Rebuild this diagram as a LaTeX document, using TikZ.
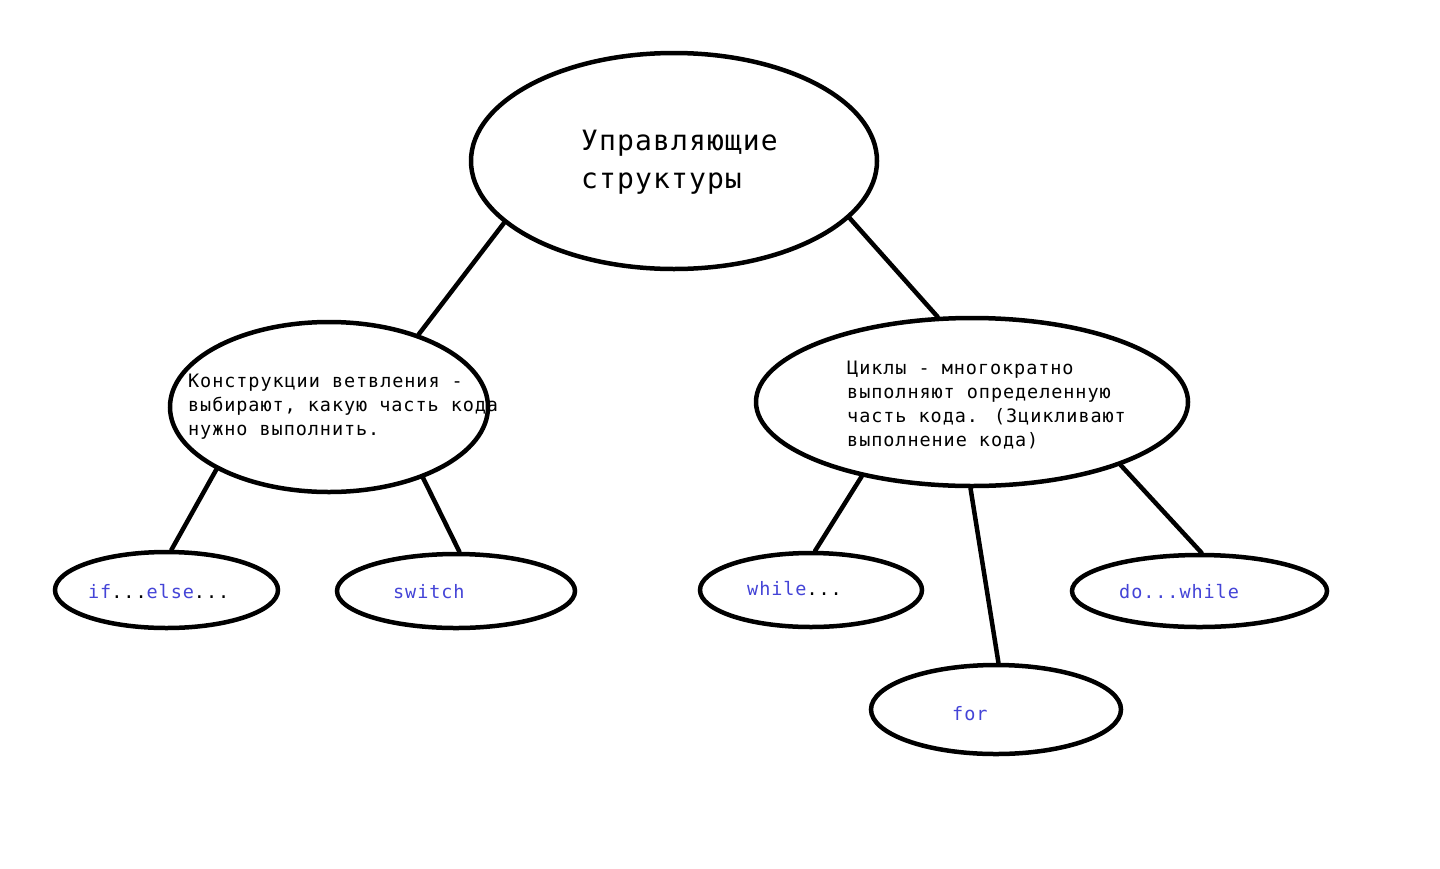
\documentclass[tikz,border=0pt]{standalone}
\usepackage{fontspec}
\setmonofont{DejaVu Sans Mono}
\newfontfamily\bodyfont[LetterSpace=5]{DejaVu Sans Mono}
\newfontfamily\titlefont[LetterSpace=4]{DejaVu Sans Mono}
\usetikzlibrary{shapes.geometric}
\definecolor{kwblue}{RGB}{68,68,215}
\tikzset{
  oval/.style={ellipse, draw=black, line width=4.5pt, inner sep=0pt, fill=none},
  conn/.style={line width=4.5pt, line cap=round},
  bodytext/.style={anchor=west, align=left, inner sep=0pt, font=\bodyfont\fontsize{18.5}{24}\selectfont},
  kwtext/.style={anchor=west, inner sep=0pt, text=kwblue, font=\bodyfont\fontsize{18.5}{24}\selectfont},
  titletext/.style={anchor=west, align=left, inner sep=0pt, font=\titlefont\fontsize{28}{38}\selectfont}
}
\begin{document}
\begin{tikzpicture}[x=1pt,y=-1pt]
\fill[white] (0,0) rectangle (1440,868);
\useasboundingbox (0,0) rectangle (1440,868);

% ellipses
\node[oval, minimum width=406pt, minimum height=216pt] (top) at (674,161) {};
\node[oval, minimum width=318pt, minimum height=170pt] (branch) at (329,407) {};
\node[oval, minimum width=432pt, minimum height=168pt] (loops) at (972,402) {};
\node[oval, minimum width=223pt, minimum height=76pt] (ifelse) at (166.5,590) {};
\node[oval, minimum width=238pt, minimum height=74pt] (switch) at (456,591) {};
\node[oval, minimum width=222pt, minimum height=74pt] (while) at (811,590) {};
\node[oval, minimum width=255pt, minimum height=72pt] (dowhile) at (1199.5,591) {};
\node[oval, minimum width=250pt, minimum height=89pt] (for) at (996,709.5) {};

% texts
\node[titletext] (toptext) at (581,162) {Управляющие\\структуры};
\node[bodytext] (branchtext) at (188,407) {Конструкции ветвления -\\выбирают, какую часть кода\\нужно выполнить.};
\node[bodytext] (loopstext) at (847,405) {Циклы - многократно\\выполняют определенную\\часть кода. (Зцикливают\\выполнение кода)};
\node[kwtext] (iftext) at (88,592) {if\textcolor{black}{...}else\textcolor{black}{...}};
\node[kwtext] (switchtext) at (393,592) {switch};
\node[kwtext] (whiletext) at (747,589) {while\textcolor{black}{...}};
\node[kwtext] (dotext) at (1119,592) {do...while};
\node[kwtext] (fortext) at (952,714) {for};

% connectors
\draw[conn] (top.200.7) -- (branch.39.3);
\draw[conn] (top.342.7) -- (loops.112.5);
\draw[conn] (branch.209.4) -- (ifelse.83.4);
\draw[conn] (branch.323.5) -- (switch.85.4);
\draw[conn] (loops.214.5) -- (while.84);
\draw[conn] (loops.269.3) -- (for.87.4);
\draw[conn] (loops.337.1) -- (dowhile.87.7);
\end{tikzpicture}
\end{document}
